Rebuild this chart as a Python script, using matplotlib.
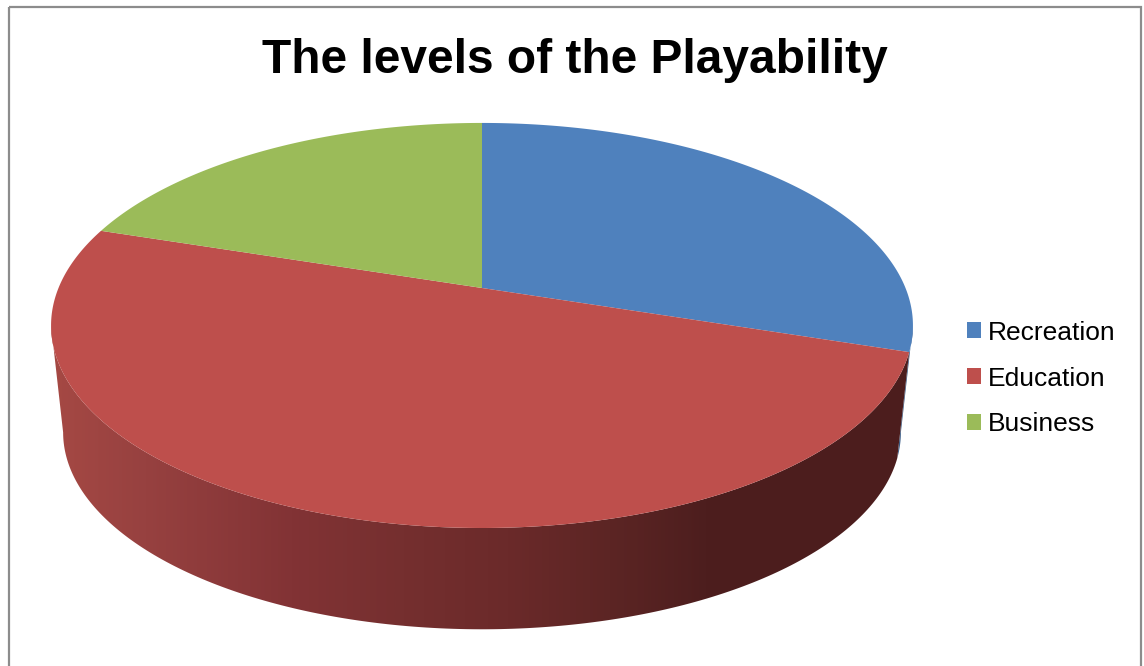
import numpy as np
import matplotlib
matplotlib.use('Agg')
import matplotlib.pyplot as plt
from matplotlib.colors import LinearSegmentedColormap
from matplotlib.patches import Polygon, Rectangle

title = "The levels of the Playability"
categories = ["Recreation", "Education", "Business"]
values = [30, 50, 20]
colors = ["#4F81BD", "#BE4F4C", "#9BBB59"]
side_colors = ["#3A5C86", "#4C1E1E", "#6F8A40"]

# shading of the pie wall, left to right
shade_stops = [0.0, 0.11, 0.28, 0.41, 0.53, 0.65, 0.76, 1.0]
shade_colors = ["#A64944", "#974140", "#823335", "#752F2F", "#6B2A2A",
                "#5C2524", "#4D1E1E", "#4C1D1D"]

# perspective of the tilted disc
cx, cy = 482, 288
lower_cy = 396
lower_scale = 0.972
px, py, tilt = 423.5, 195.6, -0.185


def project(deg, base_y=cy, scale=1.0):
    # angle runs clockwise from 12 o'clock
    t = np.radians(deg)
    x, y = np.sin(t), -np.cos(t)
    d = 1 + tilt * y
    return np.column_stack([cx + scale * px * x / d, base_y + scale * py * y / d])


def wall(a0, a1):
    arc = np.linspace(a0, a1, 200)
    return np.vstack([project(arc), project(arc[::-1], lower_cy, lower_scale)])


fig = plt.figure(figsize=(11.44, 6.66), dpi=100)
ax = fig.add_axes([0, 0, 1, 1])
ax.set_xlim(0, 1144)
ax.set_ylim(666, 0)
ax.axis('off')

# chart frame, its lower edge is cut off
ax.add_patch(Rectangle((8.5, 6.5), 1132.5, 680, fill=False, ec="#8C8C8C", lw=1.6))

edges = np.concatenate([[0], np.cumsum(values)]) / sum(values) * 360

# only the front of the wall can be seen
front_right = 90 + np.degrees(np.arcsin(-tilt))
front_left = 360 - front_right
ax.add_patch(Polygon(wall(front_right, edges[1]), fc=side_colors[0], ec="none"))

red_wall = Polygon(wall(edges[1], front_left), fc="none", ec="none")
ax.add_patch(red_wall)
cmap = LinearSegmentedColormap.from_list("wall", list(zip(shade_stops, shade_colors)))
img = ax.imshow(np.linspace(0, 1, 512)[None, :], cmap=cmap, aspect='auto',
                extent=(48, 915, 666, 0), zorder=1)
img.set_clip_path(red_wall)
ax.set_xlim(0, 1144)
ax.set_ylim(666, 0)

handles = []
for i, name in enumerate(categories):
    arc = np.linspace(edges[i], edges[i + 1], 300)
    pts = np.vstack([[cx, cy], project(arc)])
    handles.append(ax.add_patch(Polygon(pts, fc=colors[i], ec="none", zorder=2, label=name)))

ax.text(575, 73, title, ha='center', va='baseline', fontsize=34.45,
        fontweight='bold', family='Liberation Sans', color='black')

leg = ax.legend(handles=handles, loc='center left', bbox_to_anchor=(967, 378.5),
                bbox_transform=ax.transData, frameon=False, borderpad=0, borderaxespad=0,
                prop={'family': 'Liberation Sans', 'size': 19},
                handlelength=0.53, handleheight=0.53, handletextpad=0.265, labelspacing=0.83)

fig.savefig("out.png", dpi=100)
